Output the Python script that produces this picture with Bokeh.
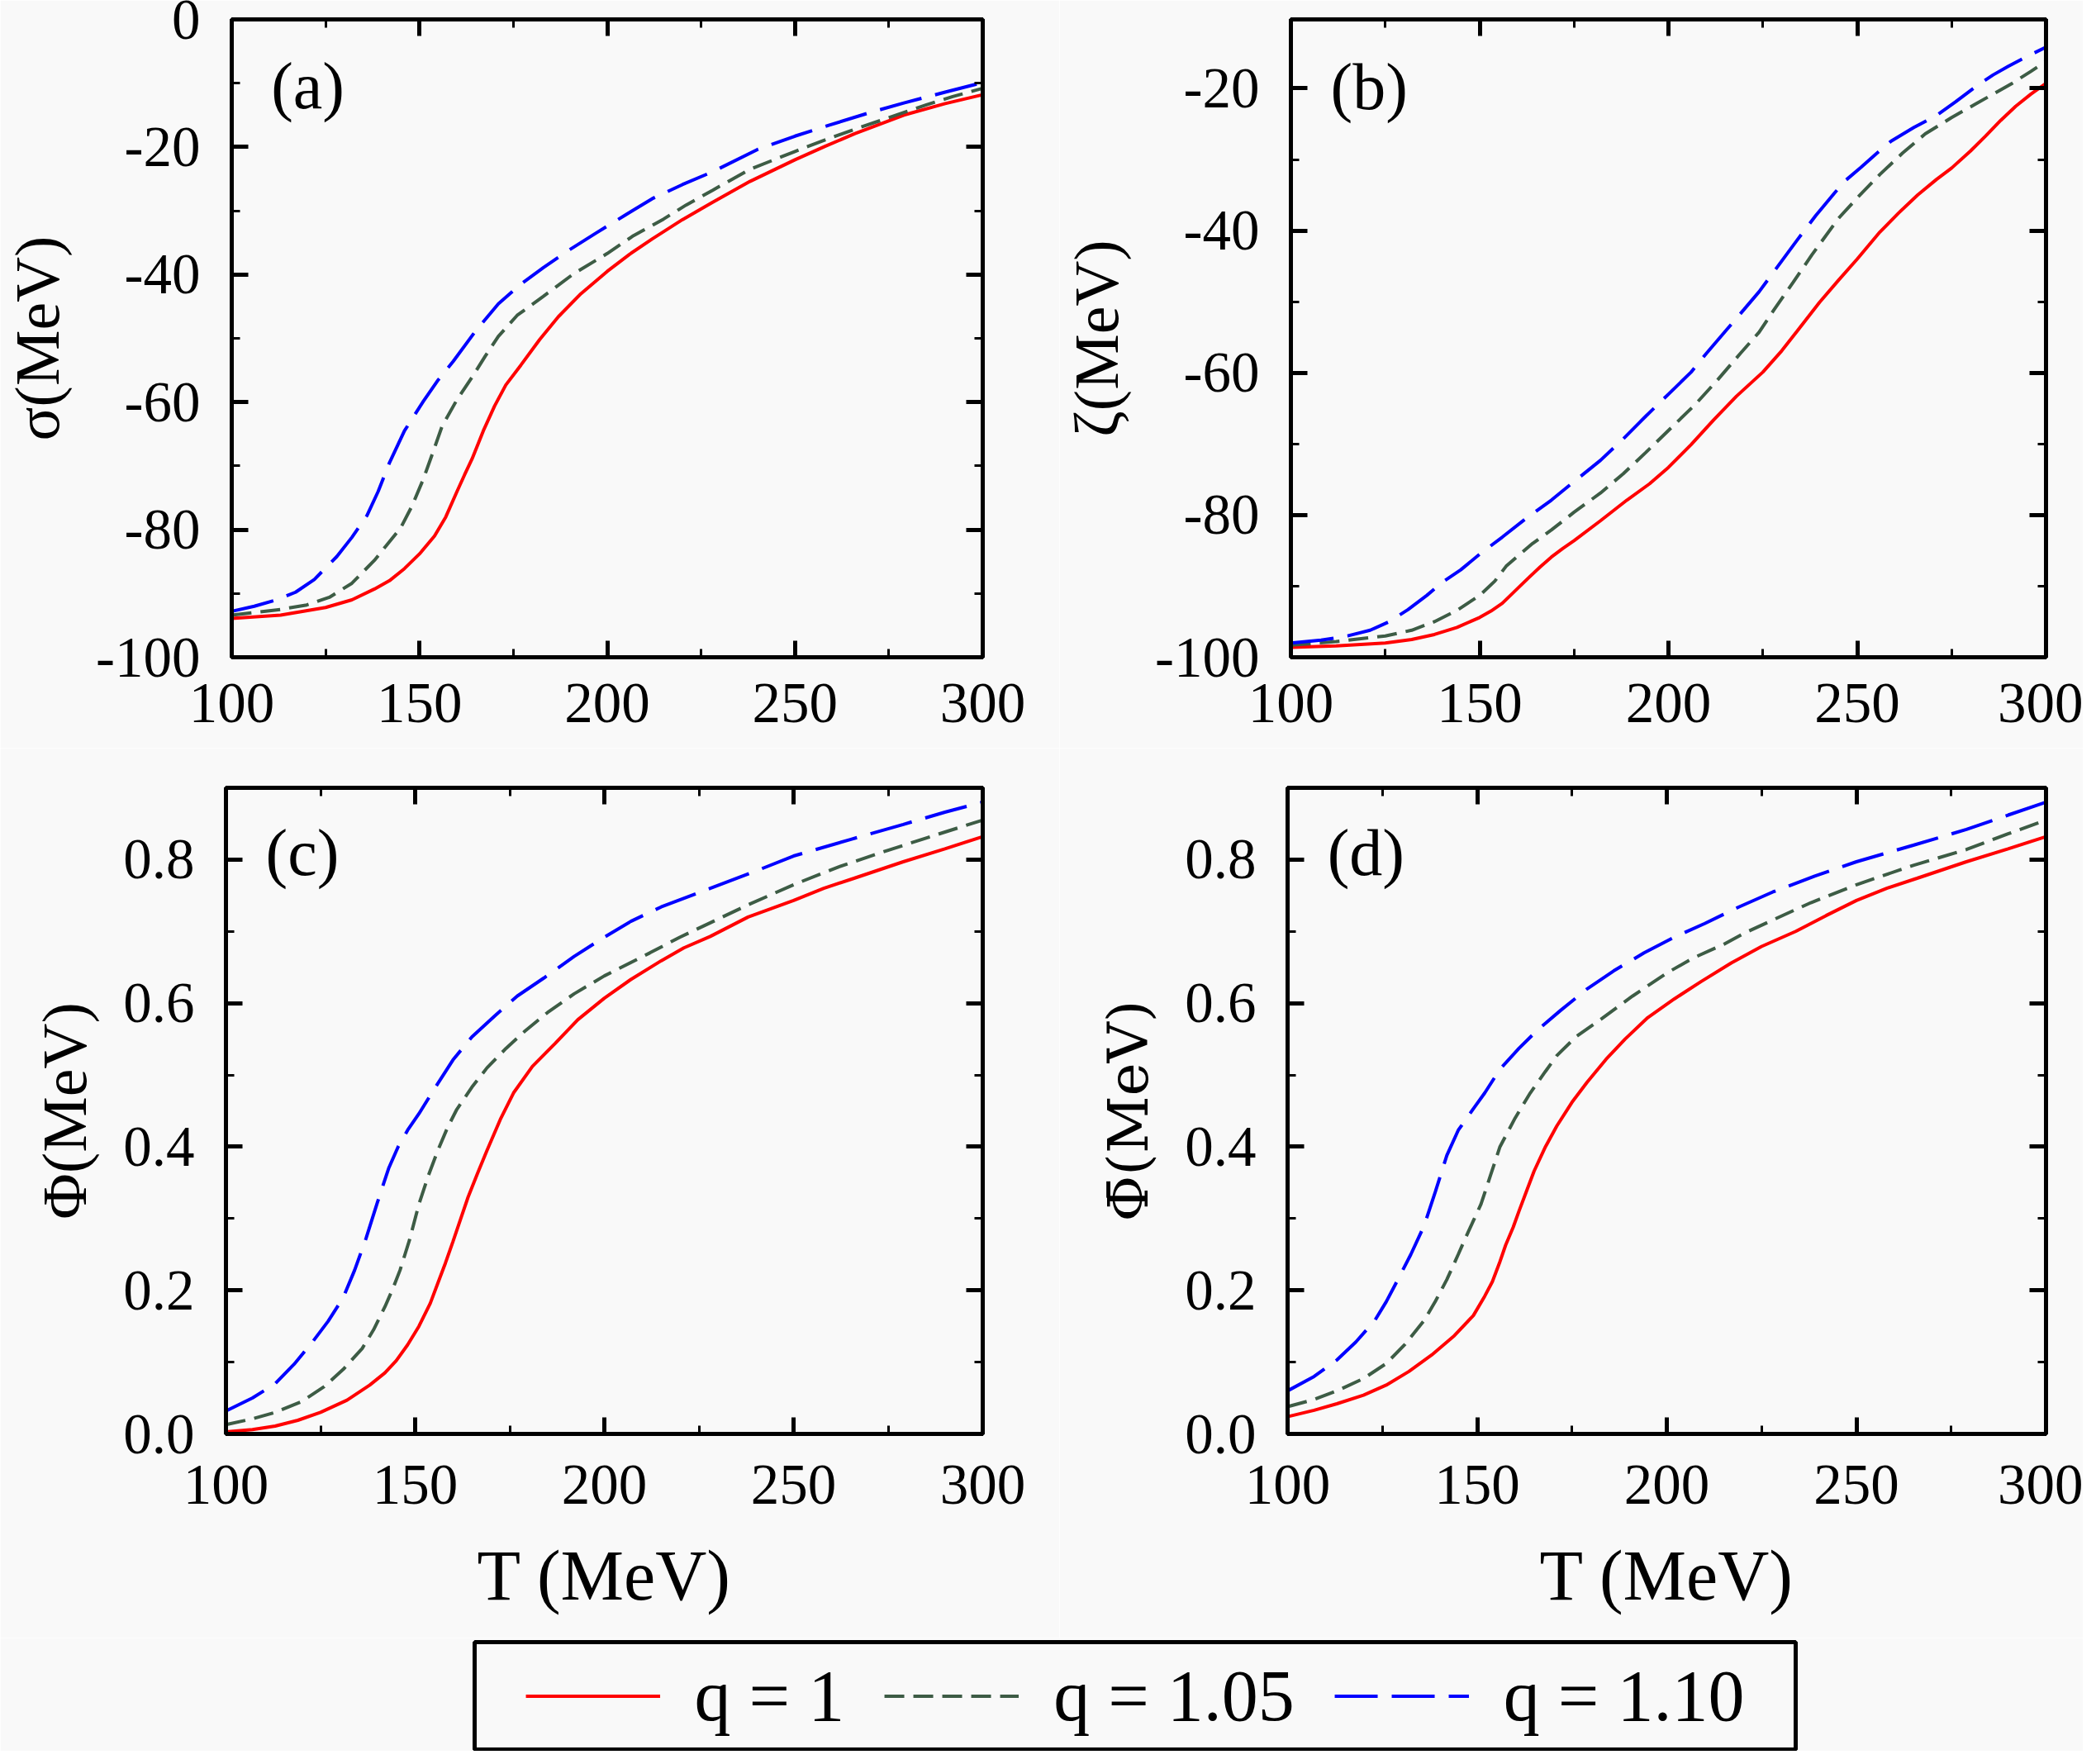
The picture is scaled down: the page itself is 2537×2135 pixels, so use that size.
from bokeh.plotting import figure
from bokeh.models import (LinearAxis, SingleIntervalTicker, Range1d, Label, Legend,
                          LegendItem, PrintfTickFormatter)
from bokeh.layouts import column, row
from bokeh.embed import file_html
from bokeh.resources import INLINE

# ---------------- data ----------------
# panel (a): sigma (MeV)
T_a_q100 = [100, 113, 125, 132, 138, 142, 146, 150, 154, 157, 160, 162, 164, 167, 170, 173, 177, 182, 187, 193, 200, 206, 212, 220, 228, 238, 250, 258, 266, 279, 290, 300]
sig_q100 = [-93.9, -93.4, -92.2, -91.0, -89.3, -88.0, -86.1, -83.8, -81.0, -78.0, -74.0, -71.4, -68.9, -64.5, -60.6, -57.3, -54.2, -50.2, -46.6, -43.0, -39.5, -36.8, -34.4, -31.4, -28.7, -25.4, -22.0, -19.9, -17.9, -15.0, -13.2, -11.8]
T_a_q105 = [100, 113, 120, 126, 132, 138, 141, 145, 148, 151, 153.5, 156, 160, 164, 167.5, 171, 176, 183, 191, 200, 207, 215, 221, 228, 238, 250, 258, 266, 275, 285, 292, 300]
sig_q105 = [-93.4, -92.5, -91.8, -90.6, -88.4, -84.8, -82.6, -79.7, -76.3, -72.1, -68.0, -63.8, -59.6, -56.1, -52.8, -49.7, -46.4, -43.4, -39.9, -36.7, -33.9, -31.3, -29.1, -26.8, -23.5, -20.7, -18.9, -17.2, -15.4, -13.4, -12.1, -10.8]
T_a_q110 = [100, 106, 112, 117, 122, 128, 132, 136, 139, 142, 146, 151, 155, 159, 165, 171, 177, 183, 190, 197, 205, 212, 220, 228, 240, 250, 259, 270, 279, 290, 300]
sig_q110 = [-92.8, -92.0, -91.0, -89.8, -87.8, -84.2, -81.2, -77.8, -74.0, -69.5, -64.5, -59.9, -56.5, -53.6, -48.8, -44.6, -41.5, -38.9, -36.1, -33.5, -30.6, -28.1, -25.9, -23.9, -20.4, -18.3, -16.6, -14.6, -13.1, -11.4, -9.9]

# panel (b): zeta (MeV)
T_b_q100 = [100, 112, 125, 132, 138, 144, 150, 153, 156, 159.5, 163, 166, 169, 172, 175, 182, 189, 195, 200, 206, 212, 218, 225, 230, 234, 240, 245, 250, 256, 261, 266, 271, 275, 280, 284, 288, 292, 296, 300]
zet_q100 = [-98.6, -98.4, -98.0, -97.5, -96.8, -95.8, -94.4, -93.5, -92.4, -90.6, -88.8, -87.3, -85.9, -84.7, -83.6, -80.8, -77.9, -75.6, -73.3, -70.1, -66.6, -63.3, -59.9, -56.9, -54.2, -50.1, -47.0, -44.0, -40.2, -37.5, -35.0, -32.8, -31.2, -28.8, -26.7, -24.5, -22.5, -20.8, -19.3]
T_b_q105 = [100, 112, 125, 132, 138, 144, 150, 154, 157, 160, 164, 169, 175, 182, 188, 194, 200, 207, 213, 219, 224, 228, 233, 238, 245, 250, 256, 262, 268, 275, 281, 286, 291, 296, 300]
zet_q105 = [-98.3, -97.8, -97.0, -96.2, -95.0, -93.4, -91.3, -89.3, -87.2, -85.8, -84.0, -82.1, -79.6, -76.9, -74.2, -71.2, -68.1, -64.5, -61.0, -57.3, -54.3, -51.1, -47.3, -43.4, -38.3, -35.4, -32.1, -29.1, -26.4, -24.1, -22.3, -20.8, -19.3, -17.6, -16.2]
T_b_q110 = [100, 108, 115, 121, 126, 131, 136, 140, 145, 150, 156, 162, 169, 175, 182, 188, 194, 200, 206, 210, 215, 220, 224, 229, 234, 239, 244, 247, 251, 255, 259, 265, 271, 276, 282, 286, 290, 295, 300]
zet_q110 = [-98.0, -97.6, -97.0, -96.2, -95.0, -93.3, -91.3, -89.5, -87.7, -85.5, -83.1, -80.6, -77.9, -75.3, -72.3, -69.3, -66.1, -63.0, -59.9, -57.3, -54.2, -51.1, -48.6, -45.0, -41.4, -37.9, -34.7, -32.9, -31.1, -29.2, -27.4, -25.5, -23.8, -21.9, -19.5, -18.1, -16.9, -15.5, -14.2]

# panel (c): Phi
T_c_q100 = [100, 107, 113, 119, 125, 132, 138, 142, 145, 148, 151, 154, 156, 158, 160, 162, 164, 166.5, 169, 172.5, 176, 181, 187, 193, 200, 207, 215, 221, 228, 238, 250, 258, 266, 279, 290, 300]
phi_q100 = [0.003, 0.006, 0.011, 0.019, 0.030, 0.047, 0.068, 0.085, 0.102, 0.124, 0.150, 0.182, 0.210, 0.238, 0.268, 0.299, 0.330, 0.363, 0.395, 0.438, 0.475, 0.512, 0.544, 0.577, 0.607, 0.633, 0.659, 0.677, 0.693, 0.720, 0.743, 0.760, 0.774, 0.797, 0.815, 0.832]
T_c_q105 = [100, 107, 113, 120, 126, 131, 136, 139, 142, 144, 146, 148.5, 151, 153.5, 156, 158.5, 161, 165, 169, 174, 179, 185, 192, 200, 212, 220, 228, 238, 250, 262, 275, 288, 300]
phi_q105 = [0.013, 0.021, 0.030, 0.045, 0.066, 0.090, 0.119, 0.145, 0.177, 0.201, 0.228, 0.270, 0.320, 0.360, 0.395, 0.426, 0.452, 0.483, 0.510, 0.537, 0.561, 0.587, 0.613, 0.638, 0.670, 0.692, 0.712, 0.737, 0.765, 0.790, 0.813, 0.835, 0.855]
T_c_q110 = [100, 107, 113, 118, 123, 127, 131, 134, 137, 140, 143, 145.5, 148, 151, 155, 160, 165, 171, 177, 184, 192, 200, 207, 215, 228, 240, 250, 265, 279, 290, 300]
phi_q110 = [0.032, 0.050, 0.070, 0.097, 0.129, 0.157, 0.190, 0.228, 0.272, 0.322, 0.370, 0.400, 0.423, 0.446, 0.480, 0.521, 0.553, 0.582, 0.610, 0.635, 0.665, 0.692, 0.714, 0.734, 0.760, 0.784, 0.805, 0.828, 0.849, 0.866, 0.880]

# panel (d): Phi-bar
T_d_q100 = [100, 107, 113, 120, 126, 132, 138, 144, 149, 152, 154, 156, 157.5, 159.5, 161, 163, 165, 168, 171, 175, 179, 184, 189, 195, 202, 209, 217, 225, 234, 242, 250, 258, 266, 279, 290, 300]
phb_q100 = [0.024, 0.033, 0.042, 0.054, 0.068, 0.087, 0.110, 0.137, 0.165, 0.192, 0.212, 0.240, 0.263, 0.288, 0.310, 0.338, 0.366, 0.400, 0.429, 0.462, 0.490, 0.522, 0.550, 0.580, 0.606, 0.630, 0.656, 0.679, 0.700, 0.722, 0.743, 0.760, 0.774, 0.797, 0.815, 0.832]
T_d_q105 = [100, 107, 113, 120, 126, 131, 136, 139, 142, 145, 147, 149, 151, 153.5, 156, 160, 164, 168, 171, 176, 183, 191, 200, 207, 215, 221, 228, 238, 250, 265, 279, 290, 300]
phb_q105 = [0.038, 0.048, 0.060, 0.077, 0.098, 0.125, 0.158, 0.185, 0.215, 0.250, 0.274, 0.297, 0.320, 0.360, 0.400, 0.440, 0.475, 0.505, 0.527, 0.553, 0.579, 0.610, 0.642, 0.663, 0.682, 0.699, 0.716, 0.740, 0.765, 0.792, 0.814, 0.836, 0.855]
T_d_q110 = [100, 107, 113, 118, 123, 126, 129, 132.5, 136, 139, 142, 145, 149, 152, 156, 161, 166, 172, 179, 186, 194, 202, 210, 219, 228, 239, 250, 265, 279, 290, 300]
phb_q110 = [0.060, 0.080, 0.103, 0.128, 0.158, 0.184, 0.214, 0.250, 0.290, 0.338, 0.388, 0.423, 0.453, 0.475, 0.508, 0.537, 0.563, 0.590, 0.620, 0.645, 0.670, 0.692, 0.711, 0.734, 0.755, 0.777, 0.797, 0.820, 0.842, 0.862, 0.880]

x_ticks_interval = 50
series_labels = ["q = 1", "q = 1.05", "q = 1.10"]
panel_tags = ["(a)", "(b)", "(c)", "(d)"]
y_titles = ["\u03c3(MeV)", "\u03b6(MeV)", "\u03a6(MeV)", "\u03a6\u0304(MeV)"]
x_title = "T (MeV)"

# ---------------- styling ----------------
BG = "#f9f9f9"
FONT = "Liberation Serif"
TICK_FS = "69px"
STYLES = [
    dict(line_color="#ff0000", line_width=4),
    dict(line_color="#3d5c45", line_width=4, line_dash="24 11"),
    dict(line_color="#0000ff", line_width=4, line_dash="52 17"),
]


def style_axis(ax, show_labels=True, standoff=36):
    ax.axis_line_color = "black"
    ax.axis_line_width = 5
    ax.major_tick_in = 20
    ax.major_tick_out = 0
    ax.minor_tick_in = 10
    ax.minor_tick_out = 0
    ax.major_tick_line_width = 5
    ax.minor_tick_line_width = 3
    ax.major_tick_line_color = "black"
    ax.minor_tick_line_color = "black"
    if show_labels:
        ax.major_label_text_font = FONT
        ax.major_label_text_font_size = TICK_FS
        ax.major_label_text_color = "black"
        ax.major_label_standoff = standoff
    else:
        ax.major_label_text_font_size = "1px"
        ax.major_label_text_color = None
        ax.major_label_standoff = 0
    ax.axis_label_text_font = FONT
    ax.axis_label_text_font_style = "normal"
    ax.axis_label_text_color = "black"


def make_panel(width, height, mbl, mbr, mbt, mbb, yr, yint, ytitle, tag, tag_y,
               series, fmt, xlabel=None, xstand=32, yfont=FONT):
    p = figure(width=width, height=height, output_backend="svg", toolbar_location=None,
               x_range=Range1d(100, 300), y_range=Range1d(*yr),
               min_border_left=mbl, min_border_right=mbr,
               min_border_top=mbt, min_border_bottom=mbb,
               background_fill_color=BG, border_fill_color=BG)
    p.xgrid.visible = False
    p.ygrid.visible = False
    p.outline_line_color = "black"
    p.outline_line_width = 5
    xt = SingleIntervalTicker(interval=x_ticks_interval, num_minor_ticks=2)
    yt = SingleIntervalTicker(interval=yint, num_minor_ticks=2)
    p.xaxis.ticker = xt
    p.yaxis.ticker = yt
    for ax in p.xaxis:
        style_axis(ax, standoff=xstand)
    for ax in p.yaxis:
        style_axis(ax, standoff=38)
    p.yaxis.formatter = PrintfTickFormatter(format=fmt)
    p.yaxis.axis_label = ytitle
    p.yaxis.axis_label_text_font = yfont
    p.yaxis.axis_label_text_font_size = "76px" if yfont == FONT else "68px"
    p.yaxis.axis_label_standoff = 26
    if xlabel:
        p.xaxis.axis_label = xlabel
        p.xaxis.axis_label_text_font_size = "86px"
        p.xaxis.axis_label_standoff = 36
    ra = LinearAxis(ticker=yt)
    style_axis(ra, show_labels=False)
    p.add_layout(ra, "right")
    ta = LinearAxis(ticker=xt)
    style_axis(ta, show_labels=False)
    p.add_layout(ta, "above")
    for (xs, ys), st in zip(series, STYLES):
        p.line(x=xs, y=ys, **st)
    p.add_layout(Label(x=110.5, y=tag_y, text=tag, text_font=FONT, text_font_size="80px",
                       text_baseline="middle", text_align="left", text_color="black"))
    return p


W1, W2 = 1282, 1239
H1, H2, HL = 905, 1077, 137

pa = make_panel(W1, H1, 273, 93, 23, 110, (-100, 0), 20, y_titles[0], panel_tags[0], -10.4,
                [(T_a_q100, sig_q100), (T_a_q105, sig_q105), (T_a_q110, sig_q110)], "%d")
pb = make_panel(W2, H1, 276, 45, 23, 110, (-100, -10.3), 20, y_titles[1], panel_tags[1], -19.8,
                [(T_b_q100, zet_q100), (T_b_q105, zet_q105), (T_b_q110, zet_q110)], "%d")
pc = make_panel(W1, H2, 273, 93, 48, 247, (0, 0.9), 0.2, y_titles[2], panel_tags[2], 0.81,
                [(T_c_q100, phi_q100), (T_c_q105, phi_q105), (T_c_q110, phi_q110)],
                "%.1f", xlabel=x_title, xstand=38)
pd = make_panel(W2, H2, 276, 45, 48, 247, (0, 0.9), 0.2, y_titles[3], panel_tags[3], 0.81,
                [(T_d_q100, phb_q100), (T_d_q105, phb_q105), (T_d_q110, phb_q110)],
                "%.1f", xlabel=x_title, xstand=38, yfont="DejaVu Serif")

# ---------------- legend strip ----------------
lf = figure(width=W1 + W2, height=HL, output_backend="svg", toolbar_location=None,
            x_range=Range1d(0, 1), y_range=Range1d(0, 1),
            min_border_left=574, min_border_right=W1 + W2 - 574 - 1599,
            min_border_top=5, min_border_bottom=2,
            background_fill_color=BG, border_fill_color=BG)
lf.xaxis.visible = False
lf.yaxis.visible = False
lf.xgrid.visible = False
lf.ygrid.visible = False
lf.outline_line_color = "black"
lf.outline_line_width = 5
items = []
# the same series, drawn off-range (invisible) only to feed the legend glyphs
for lab, st, (xs, ys) in zip(series_labels, STYLES,
                             [(T_c_q100, phi_q100), (T_c_q105, phi_q105), (T_c_q110, phi_q110)]):
    r = lf.line(x=xs, y=ys, **st)
    items.append(LegendItem(label=lab, renderers=[r]))
leg = Legend(items=items, orientation="horizontal", location="center",
             label_text_font=FONT, label_text_font_size="88px", label_text_color="black",
             glyph_width=163, glyph_height=40, label_standoff=42, spacing=48,
             padding=0, margin=0, border_line_color=None, background_fill_alpha=0)
lf.add_layout(leg, "center")

layout = column(row(pa, pb), row(pc, pd), lf)
open("out.html", "w").write(file_html(layout, INLINE))
